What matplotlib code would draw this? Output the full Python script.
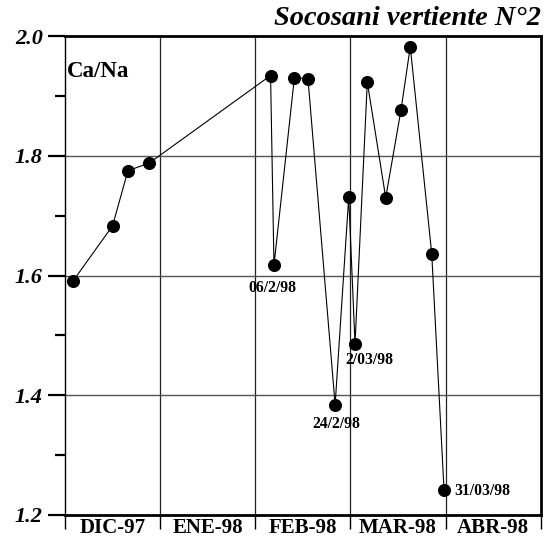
import calendar
import matplotlib
matplotlib.use("Agg")
import matplotlib.pyplot as plt
from matplotlib.ticker import FixedLocator

# Sampling dates (day, month, year) and Ca/Na ratio
sample_dates = [
    (3, 12, 1997), (16, 12, 1997), (21, 12, 1997), (28, 12, 1997),
    (5, 2, 1998), (6, 2, 1998), (12, 2, 1998), (16, 2, 1998),
    (24, 2, 1998), (28, 2, 1998), (2, 3, 1998), (6, 3, 1998),
    (12, 3, 1998), (17, 3, 1998), (20, 3, 1998), (27, 3, 1998),
    (31, 3, 1998),
]
ca_na = [
    1.590, 1.683, 1.775, 1.788,
    1.934, 1.617, 1.930, 1.929,
    1.384, 1.731, 1.486, 1.923,
    1.730, 1.877, 1.982, 1.636,
    1.242,
]
month_labels = ["DIC-97", "ENE-98", "FEB-98", "MAR-98", "ABR-98"]
first_month = (12, 1997)
y_ticks = [1.2, 1.4, 1.6, 1.8, 2.0]
y_tick_labels = ["1.2", "1.4", "1.6", "1.8", "2.0"]
y_minor_ticks = [1.3, 1.5, 1.7, 1.9]

# Dated annotations: index into the series and its text
annotated = {5: "06/2/98", 8: "24/2/98", 10: "2/03/98", 16: "31/03/98"}
annot_offsets = {5: ((-1, -16), "center"), 8: ((0.5, -13.5), "center"),
                 10: ((10, -12), "center"), 16: ((7.5, -0.8), "left")}

title = "Socosani vertiente N°2"
ylabel_text = "Ca/Na"


def month_position(day, month, year):
    """Position on an axis where every month spans one unit."""
    m0, y0 = first_month
    idx = (year - y0) * 12 + (month - m0)
    ndays = calendar.monthrange(year, month)[1]
    return idx + (day - 0.5) / ndays


xs = [month_position(*d) for d in sample_dates]

serif = "Liberation Serif"
plt.rcParams["font.family"] = serif

fig = plt.figure(figsize=(5.5, 5.4), dpi=100)
ax = fig.add_axes([65 / 550, 1 - 515 / 540, 475.7 / 550, (515 - 36) / 540])

ax.set_xlim(0, len(month_labels))
ax.set_ylim(1.2, 2.0)

# grid
for k in range(1, len(month_labels)):
    ax.axvline(k, color="#222222", lw=0.9, zorder=1)
for yv in y_ticks[1:-1]:
    ax.axhline(yv, color="#555555", lw=1.0, zorder=1)

ax.plot(xs, ca_na, color="black", lw=0.8, marker="o", ms=8.4,
        markerfacecolor="black", markeredgecolor="black", zorder=3,
        clip_on=False)

for i, txt in annotated.items():
    (dx, dy), ha = annot_offsets[i]
    ax.annotate(txt, (xs[i], ca_na[i]), xytext=(dx, dy),
                textcoords="offset points", ha=ha, va="center",
                fontweight="bold", fontsize=11.3)

# y axis ticks
ax.set_yticks(y_ticks, labels=y_tick_labels, fontweight="bold",
              fontstyle="italic", fontsize=16)
ax.yaxis.set_minor_locator(FixedLocator(y_minor_ticks))
ax.tick_params(axis="y", which="major", direction="out", length=12,
               width=1.6, pad=4)
ax.tick_params(axis="y", which="minor", direction="out", length=7,
               width=1.6)

# x axis: ticks on month boundaries, labels in month centres
ax.set_xticks(range(len(month_labels) + 1), labels=[""] * (len(month_labels) + 1))
ax.set_xticks([k + 0.5 for k in range(len(month_labels))], labels=month_labels,
              minor=True, fontweight="bold", fontsize=15)
ax.tick_params(axis="x", which="major", direction="out", length=10,
               width=1.0)
ax.tick_params(axis="x", which="minor", length=0, pad=2)

for side in ("top", "bottom", "right"):
    ax.spines[side].set_linewidth(2.0)
ax.spines["left"].set_linewidth(1.0)

fig.text(540.7 / 550, 1 - 25 / 540, title, ha="right", va="baseline",
         fontweight="bold", fontstyle="italic", fontsize=20.4)
fig.text(66.5 / 550, 1 - 76.7 / 540, ylabel_text, ha="left", va="baseline",
         fontweight="bold", fontsize=16.5)

fig.savefig("out.png", dpi=100)
